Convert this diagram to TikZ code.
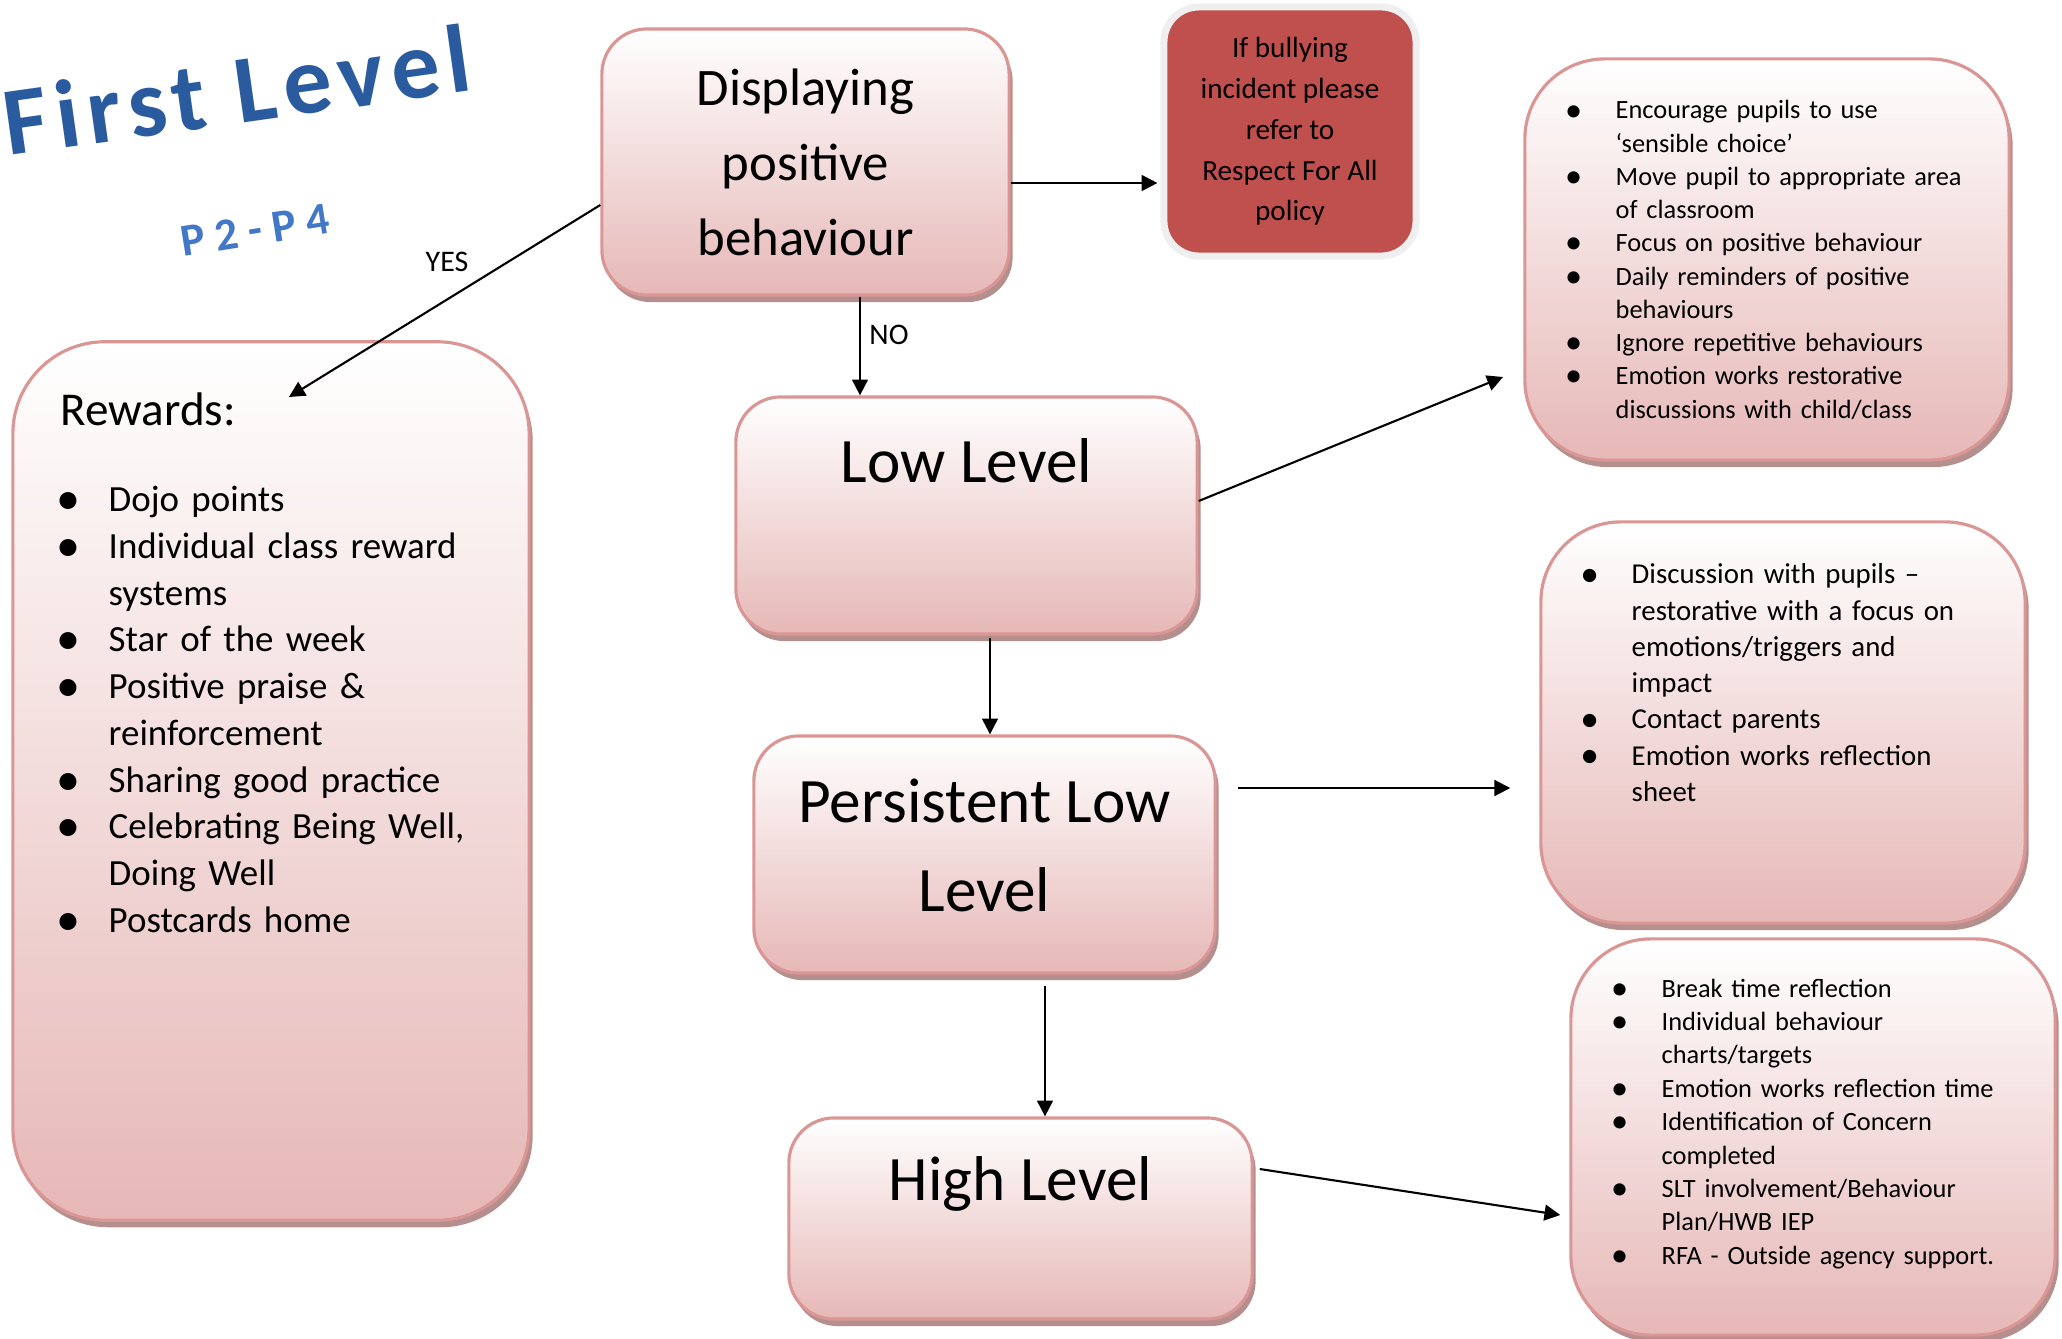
\documentclass[tikz,border=0pt]{standalone}
\usepackage{fontspec}
\setmainfont{Carlito}
\newfontfamily\titlefont[LetterSpace=8]{Carlito}
\newfontfamily\gradefont[LetterSpace=22]{Carlito}
\usetikzlibrary{arrows.meta,shadows,calc}

\definecolor{pinkedge}{HTML}{D99694}
\definecolor{pinkbot}{HTML}{E6B8B7}
\definecolor{pinkshade}{HTML}{B58E8E}
\definecolor{bullyred}{HTML}{C0504D}
\definecolor{bullyrim}{HTML}{EFEFEF}
\definecolor{titleblue}{HTML}{2A5B9F}
\definecolor{gradeblue}{HTML}{4377C7}

% bullet list, dot centred on the left edge
\newcommand{\listdot}{\makebox[0pt][c]{\raisebox{-0.08em}{\scalebox{1.3}{\textbullet}}}}
\newenvironment{pointlist}[1]{%
  \begin{list}{\listdot}{%
    \setlength{\leftmargin}{#1}\setlength{\labelwidth}{#1}%
    \setlength{\labelsep}{0pt}\setlength{\itemsep}{0pt}%
    \setlength{\parsep}{0pt}\setlength{\topsep}{0pt}%
    \setlength{\partopsep}{0pt}%
    \renewcommand{\makelabel}[1]{##1\hfil}}}%
  {\end{list}}

\tikzset{
  levelbox/.style={draw=pinkedge, line width=0.9pt, top color=white,
    bottom color=pinkbot, inner sep=0pt, align=center,
    drop shadow={shadow xshift=1pt, shadow yshift=-2pt, fill=pinkshade, opacity=1}},
  listtext/.style={anchor=north west, inner sep=0pt, align=left},
  arr/.style={-{Triangle[length=4.5pt,width=4.5pt]}, line width=0.6pt},
  answer/.style={font=\fontsize{8.5pt}{10pt}\selectfont}
}

\begin{document}
\begin{tikzpicture}[x=0.01cm, y=-0.01cm]
  \useasboundingbox (0,0) rectangle (2062,1339);

  % title
  \node[rotate=8, text=titleblue, font=\titlefont\bfseries\fontsize{27.5pt}{30pt}\selectfont] (title) at (237,90) {First Level};
  \node[rotate=9, text=gradeblue, font=\gradefont\bfseries\fontsize{13pt}{15pt}\selectfont] (grade) at (255,230) {P2-P4};

  % boxes
  \node[levelbox, rounded corners=0.45cm, minimum width=4.07cm, minimum height=2.66cm,
    font=\fontsize{15pt}{21.3pt}\selectfont] (disp) at (805.5,162) {Displaying\\positive\\behaviour};
  \node[draw=bullyrim, fill=bullyred, line width=2pt, rounded corners=0.35cm, inner sep=0pt,
    minimum width=2.52cm, minimum height=2.49cm, align=center,
    font=\fontsize{8.3pt}{11.6pt}\selectfont] (bully) at (1290,131.5) {If bullying\\incident please\\refer to\\Respect For All\\policy};
  \node[levelbox, rounded corners=0.92cm, minimum width=5.16cm, minimum height=8.78cm] (rewards) at (271,781) {};
  \node[levelbox, rounded corners=0.45cm, minimum width=4.61cm, minimum height=2.37cm] (low) at (966.5,515.5) {};
  \node[levelbox, rounded corners=0.45cm, minimum width=4.61cm, minimum height=2.37cm] (persist) at (984.5,854.5) {};
  \node[levelbox, rounded corners=0.45cm, minimum width=4.63cm, minimum height=2.01cm] (high) at (1020.5,1218.5) {};
  \node[levelbox, rounded corners=0.8cm, minimum width=4.84cm, minimum height=4.01cm] (lowacts) at (1767,259.5) {};
  \node[levelbox, rounded corners=0.8cm, minimum width=4.84cm, minimum height=4.01cm] (persacts) at (1783,722.5) {};
  \node[levelbox, rounded corners=0.8cm, minimum width=4.84cm, minimum height=3.96cm] (highacts) at (1813,1137) {};

  % box texts
  \node[font=\fontsize{18pt}{22pt}\selectfont] (lowtext) at ($(low.north)+(0,65)$) {Low Level};
  \node[align=center, font=\fontsize{18pt}{25.2pt}\selectfont] (persisttext) at ($(persist.center)+(0,-9)$) {Persistent Low\\Level};
  \node[font=\fontsize{18pt}{22pt}\selectfont] (hightext) at ($(high.north)+(0,68)$) {High Level};
  \node[listtext, font=\fontsize{13.4pt}{16pt}\selectfont] (rewtitle) at (60,392) {Rewards:};
  \node[listtext, text width=4.4cm, font=\fontsize{10.5pt}{13.3pt}\selectfont] (rewlist) at (68,464) {%
    \begin{pointlist}{0.40cm}
      \item Dojo points
      \item Individual class reward\newline systems
      \item Star of the week
      \item Positive praise \&\newline reinforcement
      \item Sharing good practice
      \item Celebrating Being Well,\newline Doing Well
      \item Postcards home
    \end{pointlist}};
  \node[listtext, text width=4.3cm, font=\fontsize{7.5pt}{9.45pt}\selectfont] (lowlist) at (1573,85) {%
    \begin{pointlist}{0.42cm}
      \item Encourage pupils to use\newline ‘sensible choice’
      \item Move pupil to appropriate area\newline of classroom
      \item Focus on positive behaviour
      \item Daily reminders of positive\newline behaviours
      \item Ignore repetitive behaviours
      \item Emotion works restorative\newline discussions with child/class
    \end{pointlist}};
  \node[listtext, text width=4.3cm, font=\fontsize{8.2pt}{10.3pt}\selectfont] (perslist) at (1589,547) {%
    \begin{pointlist}{0.42cm}
      \item Discussion with pupils --\newline restorative with a focus on\newline emotions/triggers and\newline impact
      \item Contact parents
      \item Emotion works reflection\newline sheet
    \end{pointlist}};
  \node[listtext, text width=4.3cm, font=\fontsize{7.5pt}{9.5pt}\selectfont] (highlist) at (1619,963) {%
    \begin{pointlist}{0.42cm}
      \item Break time reflection
      \item Individual behaviour\newline charts/targets
      \item Emotion works reflection time
      \item Identification of Concern\newline completed
      \item SLT involvement/Behaviour\newline Plan/HWB IEP
      \item RFA - Outside agency support.
    \end{pointlist}};

  % connectors
  \coordinate (rewtip) at (289,397);
  \coordinate (lowtip) at (1503,377);
  \draw[arr] ($(disp.west)+(0,43)$) -- (rewtip);
  \node[answer] (yes) at (447,262) {YES};
  \draw[arr] ($(disp.south)+(54.5,0)$) -- ($(low.north)+(-106.5,0)$);
  \node[answer] (no) at (889,335) {NO};
  \draw[arr] ($(disp.east)+(0,21)$) -- ($(bully.west)+(-3,51.5)$);
  \draw[arr] ($(low.east)+(0,-14.5)$) -- (lowtip);
  \draw[arr] ($(low.south)+(23.5,2)$) -- ($(persist.north)+(5.5,0)$);
  \draw[arr] ($(persist.east)+(21,-66.5)$) -- ($(persacts.west)+(-29,65.5)$);
  \draw[arr] ($(persist.south)+(60.5,11)$) -- ($(high.north)+(24.5,0)$);
  \draw[arr] ($(high.east)+(6,-49.5)$) -- ($(highacts.west)+(-9,78)$);
\end{tikzpicture}
\end{document}
